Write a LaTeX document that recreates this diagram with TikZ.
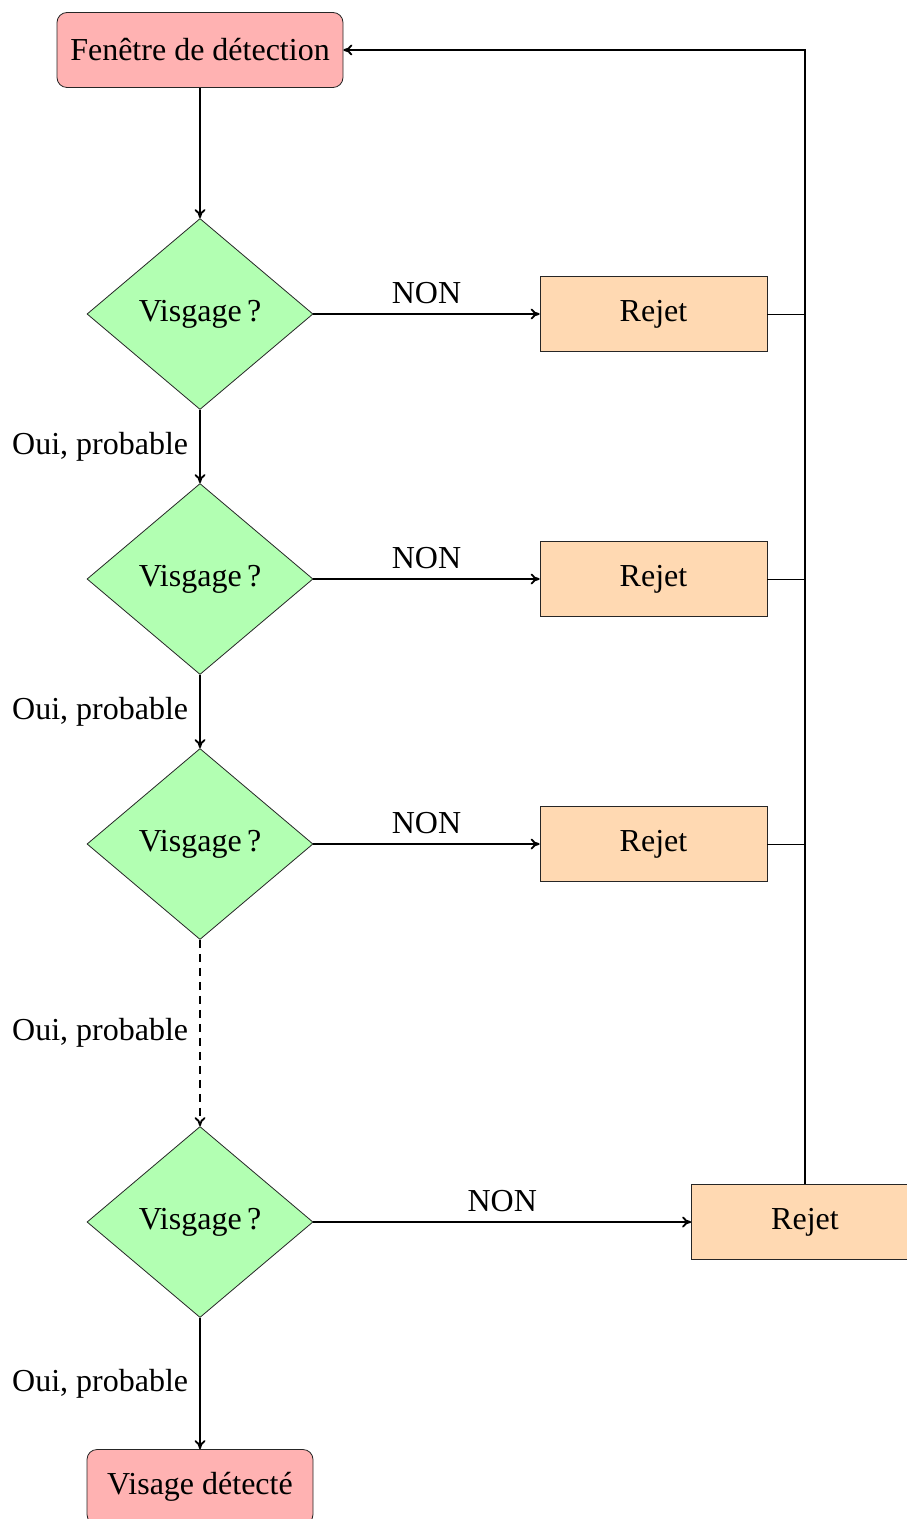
\documentclass[tikz,border=0pt]{standalone}
\usepackage{fontspec}
\setmainfont{Liberation Serif}
\usetikzlibrary{shapes.geometric,arrows.meta}
\begin{document}
\begin{tikzpicture}[x=0.5pt,y=-0.5pt,
  font=\fontsize{16}{19}\selectfont,
  startbox/.style={draw=black!85,line width=0.4pt,fill=red!30,rounded corners=5pt,inner sep=0pt,minimum height=37.5pt},
  testbox/.style={draw=black!85,line width=0.4pt,fill=green!30,diamond,inner sep=0pt,minimum width=113pt,minimum height=95.5pt,aspect=1.18},
  rejbox/.style={draw=black!85,line width=0.4pt,fill=orange!30,inner sep=0pt,minimum width=113.5pt,minimum height=37.5pt},
  flow/.style={-{To[length=4.5pt,width=5.5pt]},line width=0.9pt},
  link/.style={line width=0.4pt},
  ylbl/.style={midway,left,inner sep=5.5pt},
  nlbl/.style={midway,above,inner sep=4.5pt}]
\useasboundingbox (0,0) rectangle (906,1519);
\node[startbox,minimum width=143pt] (start) at (200,50) {Fenêtre de détection};
\node[testbox] (d1) at (200,314) {Visgage\,?};
\node[testbox] (d2) at (200,579) {Visgage\,?};
\node[testbox] (d3) at (200,844) {Visgage\,?};
\node[testbox] (d4) at (200,1222) {Visgage\,?};
\node[rejbox] (r1) at (653.5,314) {Rejet};
\node[rejbox] (r2) at (653.5,579) {Rejet};
\node[rejbox] (r3) at (653.5,844) {Rejet};
\node[rejbox] (r4) at (805,1222) {Rejet};
\node[startbox,minimum width=113pt] (end) at (200,1487) {Visage détecté};
\coordinate (c0) at (805,50);
\coordinate (c1) at (805,314);
\coordinate (c2) at (805,579);
\coordinate (c3) at (805,844);
\draw[flow] (start) -- (d1);
\draw[flow] (d1) -- node[ylbl] {Oui, probable} (d2);
\draw[flow] (d2) -- node[ylbl] {Oui, probable} (d3);
\draw[flow,dash pattern=on 4pt off 3pt] (d3) -- node[ylbl] {Oui, probable} (d4);
\draw[flow] (d4) -- node[ylbl] {Oui, probable} (end);
\draw[flow] (d1) -- node[nlbl] {NON} (r1);
\draw[flow] (d2) -- node[nlbl] {NON} (r2);
\draw[flow] (d3) -- node[nlbl] {NON} (r3);
\draw[flow] (d4) -- node[nlbl] {NON} (r4);
\draw[link] (r1) -- (c1);
\draw[link] (r2) -- (c2);
\draw[link] (r3) -- (c3);
\draw[flow] (r4) -- (c0) -- (start);
\end{tikzpicture}
\end{document}
